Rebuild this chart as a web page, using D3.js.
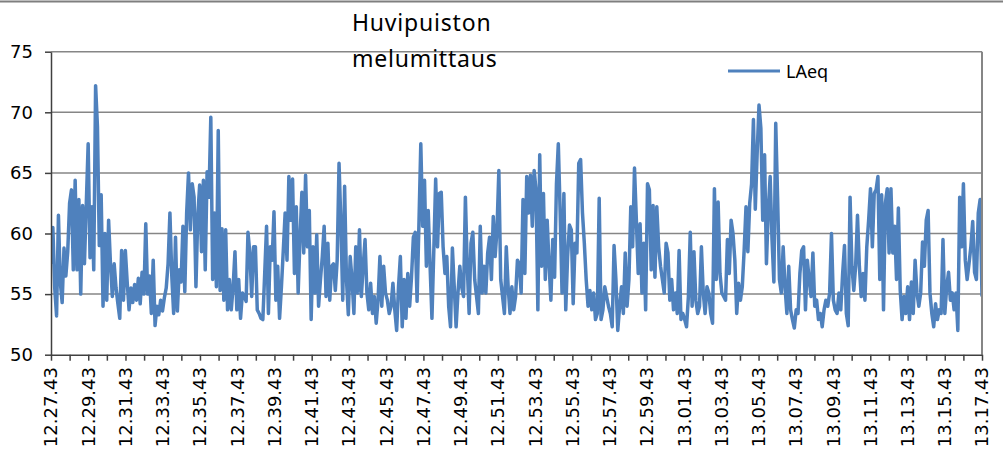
<!DOCTYPE html>
<html><head><meta charset="utf-8">
<script src="https://cdn.jsdelivr.net/npm/d3@7"></script>
<style>
html,body{margin:0;padding:0;background:#fff;}
svg{display:block;}
</style></head><body>
<svg id="chart" width="1003" height="450"></svg>
<script>
const titleLines = ["Huvipuiston", "melumittaus"];
const seriesName = "LAeq";
const yTicks = [50, 55, 60, 65, 70, 75];
const timeLabels = ["12.27.43","12.29.43","12.31.43","12.33.43","12.35.43","12.37.43","12.39.43","12.41.43","12.43.43","12.45.43","12.47.43","12.49.43","12.51.43","12.53.43","12.55.43","12.57.43","12.59.43","13.01.43","13.03.43","13.05.43","13.07.43","13.09.43","13.11.43","13.13.43","13.15.43","13.17.43"];
const durationSec = 3000;
const minorTickSec = 60;
const labelEverySec = 120;
const laeq = [
57.5,60.5,55.5,53.2,61.5,56,54.3,58.8,56.5,58.5,
62.5,63.6,57,64.4,57,62.8,55,62.3,57.5,62.5,
67.4,58,62.2,57,72.2,68.8,59,63.2,54,60,
54.5,61.1,57.5,54.8,57.5,55.5,54.2,53,58.6,54.5,
58.6,56,53.7,55.5,54.3,55.8,54.5,56.3,54.2,56.8,
55,60.8,55,56.5,53.4,57.8,52.4,54,53.3,54.5,
53.6,54.7,55.5,57.5,61.7,56.5,53.4,59.7,53.6,57,
56,60.6,55.2,61.7,65,60.3,64.1,63,55.6,61.5,
64,58.5,64.4,57,
65.1,63,69.6,56.2,61.7,55.6,68.5,55.3,60.4,54.5,
60.3,53.7,56.2,53.7,55.6,58.5,53.7,56.2,53,55.1,
54.8,54.4,60.1,58.4,54.8,58.9,58.9,53.7,53.4,53,
52.9,56.7,60.6,53.4,58.9,57.8,61.8,54.5,57.3,53,
55.6,58.6,61.7,57.8,64.7,61.1,64.5,56.7,62.2,55.1,
59.6,63.4,58.4,64.8,58.9,61.9,52.9,58.9,55.1,59.9,
54,56.2,58.1,60.6,54.8,59.2,54.5,57.3,57.5,55.3,
57.8,65.8,60.8,54.5,63.9,56.2,53.3,58.1,56.2,53.4,
58.9,55.1,60.3,54.8,
57.3,59.5,55.1,53.7,55.9,53.4,54.8,52.6,54.5,58.1,
54,57.3,55.1,54.5,53.4,54,55.9,53.7,52,55.6,
58.1,52.3,56.2,53,56.7,54,56.4,59.7,60.1,54.4,
60.8,67.4,60.6,64.4,57.3,61.9,57.3,53,58.6,64.5,
58.9,63.3,63.4,58.9,56.7,58.1,54,52.3,58.8,55.6,
52.3,55.1,57.3,55.6,54.8,63,57.3,53.4,59.2,60.1,
56.2,54.8,53.4,60.6,55.1,57.3,55.1,58.4,59.7,56.2,
61.4,58.1,60.3,65.2,56.2,54.8,53.4,58.9,55.6,53.4,
55.6,53.7,54.8,57.8,
57.5,55.1,62.8,56.7,64.7,61.7,64.8,60.6,65.2,63.6,
53.7,66.5,57.3,63.3,56.2,61.1,57.5,54.5,59.5,56.4,
64.1,67.4,61.7,55.1,63.3,53.7,58.1,60.7,60.3,54.2,
59.2,58.4,65.8,66.1,61.7,59.2,56.2,54,55.3,53.7,
55.1,52.9,53.4,62.9,52.9,53.7,55.6,54.8,54,53.4,
52.3,59,56.2,52,54,55.6,53.4,58.4,54,56.2,
62.2,58.9,65.4,61.1,56.7,60.8,55.1,59.2,53.7,64.1,
63.6,57,62.3,56.4,62.2,58.9,57.3,56.2,55.1,59.2,
58.4,54.5,56.2,53.7,
55.1,53.4,58.6,52.9,53.4,52.9,52.3,54.8,60.1,54,
58.5,54.5,53.4,54,58.9,55.1,53.4,55.6,55.1,53.4,
52.6,63.7,56.2,62.6,56.7,55.1,54.8,54.5,59.5,56.7,
61.1,60,57.8,53.4,55.9,54.5,55.6,58.6,62.2,58.5,
62.5,64.1,69.4,62,66.6,70.6,68.7,61.1,66.5,57.5,
62,64.7,59.5,56,69.1,63,56.2,55.1,58.9,55.6,
53.4,57.3,53.7,52.9,52.2,53.7,53.4,56.7,58.6,58.9,
53.7,57.8,56.2,54.8,58.4,54,54.5,52.9,53.4,52.3,
53.7,54.5,54,55.1,
60,54.5,53.7,53.4,55.1,53.7,56.7,59,53.4,52.4,
63,57.3,55.3,57.3,61.5,57.3,54.8,56.7,54.5,58.9,
61.1,63.7,58.9,63.3,63.6,64.7,56.2,63.2,53.7,62.5,
63.7,58.4,63.7,58.4,60.6,56.2,62.1,55.3,52.9,54.8,
53.4,55.6,52.9,56,53.4,57.8,55.1,54,55.1,59.3,
57.3,61.1,61.9,55.1,53.4,52.3,54.2,52.9,53.7,53.4,
59.5,53.4,55.6,56.8,54.5,55.1,53.7,55.1,52,63,
58.9,64.1,57.8,56.2,57.5,58.9,61,56.8,56.2,61.7,
62.8,54.8
];

const W = 1003;
const plot = {left: 51, right: 982, top: 51.7, bottom: 354.7};
const svg = d3.select("#chart");
const x = d3.scaleLinear().domain([0, durationSec]).range([plot.left, plot.right]);
const y = d3.scaleLinear().domain([yTicks[0], yTicks[yTicks.length - 1]]).range([plot.bottom, plot.top]);
const step = durationSec / (laeq.length - 1);

// outer chart border (top edge)
svg.append("line").attr("x1", 0).attr("x2", W).attr("y1", 1.5).attr("y2", 1.5)
  .attr("stroke", "#7f7f7f").attr("stroke-width", 2);

// gridlines
svg.append("g").selectAll("line").data(yTicks.slice(1)).join("line")
  .attr("x1", plot.left).attr("x2", plot.right)
  .attr("y1", d => y(d)).attr("y2", d => y(d))
  .attr("stroke", "#868686").attr("stroke-width", 1.5);

// series line
svg.append("defs").append("clipPath").attr("id", "clip").append("rect")
  .attr("x", plot.left).attr("y", 0).attr("width", plot.right - plot.left).attr("height", plot.bottom);
const line = d3.line().x((d, i) => x(i * step)).y(d => y(d));
svg.append("path").datum(laeq).attr("d", line).attr("clip-path", "url(#clip)")
  .attr("fill", "none").attr("stroke", "#4F81BD").attr("stroke-width", 3.5)
  .attr("stroke-linejoin", "round");

// right border of plot area
svg.append("line").attr("x1", plot.right).attr("x2", plot.right)
  .attr("y1", plot.top).attr("y2", plot.bottom)
  .attr("stroke", "#868686").attr("stroke-width", 2);

// y axis
svg.append("g").attr("transform", `translate(${plot.left},0)`)
  .call(d3.axisLeft(y).tickValues(yTicks).tickSize(6).tickSizeOuter(0).tickPadding(12))
  .call(g => {
    g.select(".domain").attr("stroke", "#404040").attr("stroke-width", 1.5);
    g.selectAll(".tick line").attr("stroke", "#404040").attr("stroke-width", 1.5);
    g.selectAll("text").attr("font-family", "DejaVu Sans").attr("font-size", 18).attr("fill", "#000");
  });

// x axis
svg.append("g").attr("transform", `translate(0,${plot.bottom})`)
  .call(d3.axisBottom(x).tickValues(d3.range(0, durationSec + 1, minorTickSec))
    .tickSize(6).tickSizeOuter(0).tickFormat(""))
  .call(g => {
    g.select(".domain").attr("stroke", "#404040").attr("stroke-width", 1.5);
    g.selectAll(".tick line").attr("stroke", "#404040").attr("stroke-width", 1.5);
  });

svg.append("g").selectAll("text").data(timeLabels).join("text")
  .attr("transform", (d, i) => `translate(${x(i * labelEverySec)},367) rotate(-90)`)
  .attr("text-anchor", "end").attr("dy", "0.36em")
  .attr("font-family", "DejaVu Sans").attr("font-size", 18).attr("fill", "#000")
  .text(d => d);

// title
svg.append("g").selectAll("text").data(titleLines).join("text")
  .attr("x", 352).attr("y", (d, i) => 31 + i * 35.5)
  .attr("font-family", "Noto Sans").attr("font-size", 23).attr("letter-spacing", 0.8)
  .attr("fill", "#000").text(d => d);

// legend
const lg = svg.append("g");
lg.append("line").attr("x1", 728).attr("x2", 780).attr("y1", 71).attr("y2", 71)
  .attr("stroke", "#4F81BD").attr("stroke-width", 3);
lg.append("text").attr("x", 786).attr("y", 78).attr("font-family", "Noto Sans")
  .attr("font-size", 18).attr("fill", "#000").text(seriesName);
</script>
</body></html>
